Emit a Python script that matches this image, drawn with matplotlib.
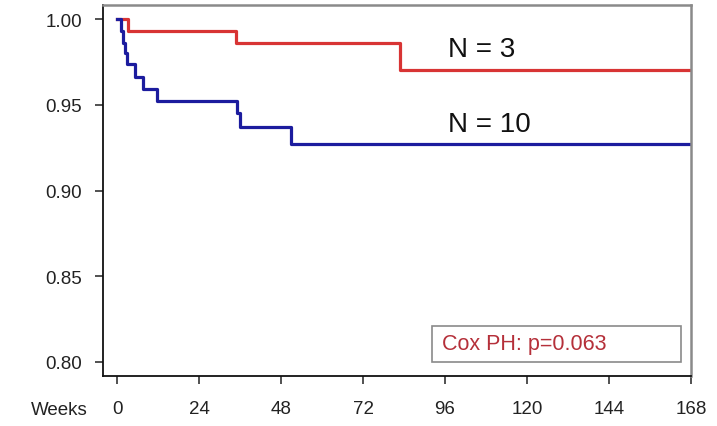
import matplotlib
matplotlib.use("Agg")
import matplotlib.pyplot as plt
from matplotlib.patches import Rectangle

plt.rcParams['font.family'] = ['Liberation Sans', 'DejaVu Sans']

# Kaplan-Meier estimates (weeks, survival)
red_weeks = [0, 3.1, 34.8, 82.8, 168]
red_surv = [1.000, 0.993, 0.986, 0.970, 0.970]

blue_weeks = [0, 1.3, 1.8, 2.3, 2.8, 5.3, 7.7, 11.6, 35.2, 36.0, 50.8, 168]
blue_surv = [1.000, 0.993, 0.986, 0.980, 0.974, 0.966, 0.959, 0.952, 0.945, 0.937, 0.927, 0.927]

x_ticks = [0, 24, 48, 72, 96, 120, 144, 168]
y_ticks = [0.80, 0.85, 0.90, 0.95, 1.00]

fig = plt.figure(figsize=(7.17, 4.27), dpi=100)
ax = fig.add_axes([103 / 717, 50 / 427, 588 / 717, 371 / 427])

ax.plot(red_weeks, red_surv, drawstyle='steps-post', color='#d83434', lw=2.3)
ax.plot(blue_weeks, blue_surv, drawstyle='steps-post', color='#1c1c9e', lw=2.3)

ax.set_xlim(-4.1, 168)
ax.set_ylim(0.7918, 1.0082)
ax.set_xticks(x_ticks)
ax.set_xticklabels([str(t) for t in x_ticks])
ax.set_yticks(y_ticks)
ax.set_yticklabels(['%.2f' % t for t in y_ticks])
ax.tick_params(axis='both', direction='out', length=6, width=1.1,
               labelsize=13.5, colors='#222222')
ax.tick_params(axis='y', pad=9)
ax.tick_params(axis='x', pad=11)

for side in ['left', 'bottom']:
    ax.spines[side].set_color('#111111')
    ax.spines[side].set_linewidth(1.3)
for side in ['top', 'right']:
    ax.spines[side].set_color('#8a8a8a')
    ax.spines[side].set_linewidth(1.8)

ax.text(-8.5, -0.09, 'Weeks', transform=ax.get_xaxis_transform(),
        ha='right', va='center', fontsize=13.5, color='#222222')

ax.text(96.9, 0.9825, 'N = 3', fontsize=20, ha='left', va='center', color='#111111')
ax.text(96.9, 0.9388, 'N = 10', fontsize=20, ha='left', va='center', color='#111111')

# Cox proportional hazards box
ax.add_patch(Rectangle((92.2, 0.800), 72.9, 0.021, fill=False,
                       edgecolor='#8a8a8a', lw=1.2))
ax.text(95.1, 0.8105, 'Cox PH: p=0.063', fontsize=15.5, ha='left', va='center',
        color='#b5303a')

fig.savefig('out.png', dpi=100)
